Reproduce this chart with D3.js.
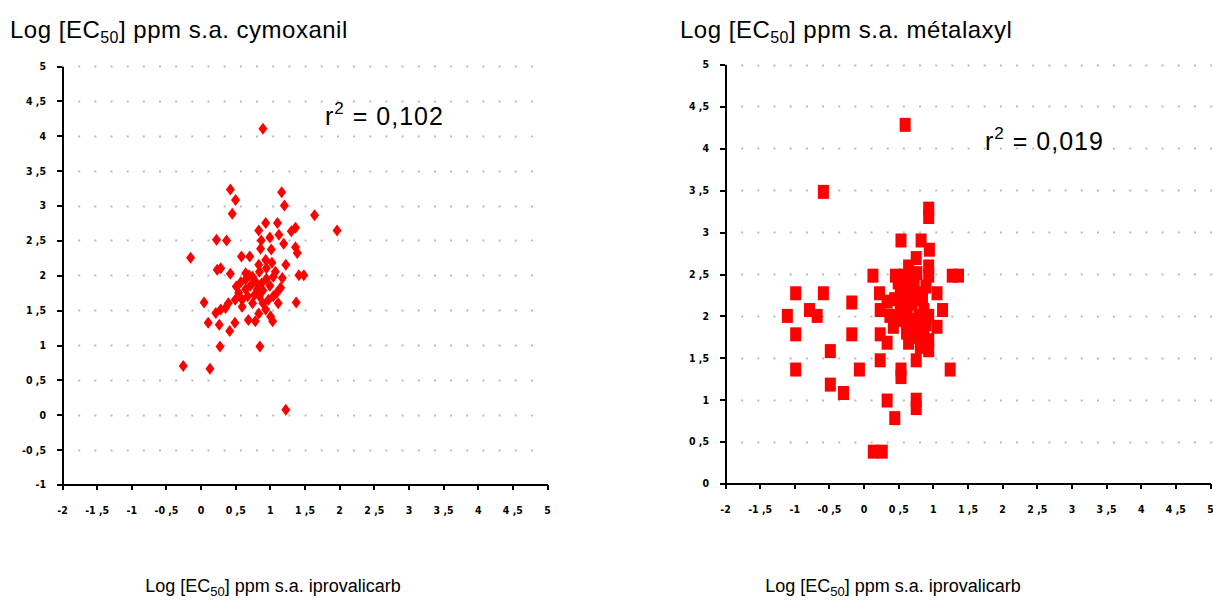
<!DOCTYPE html>
<html lang="fr">
<head>
<meta charset="UTF-8">
<title>EC50 scatter</title>
<style>
  body { margin: 0; background: #fff; }
  svg { display: block; font-family: "Liberation Sans", Arial, sans-serif; }
  .axis path, .axis line { stroke: #000; stroke-width: 2; shape-rendering: crispEdges; }
  .axis text { font-family: "Liberation Sans Narrow", "DejaVu Sans Condensed", sans-serif; font-weight: bold; font-size: 10.5px; fill: #000; }
  .grid line { stroke: #bbb; stroke-width: 2; stroke-dasharray: 2 14.17; }
</style>
</head>
<body>
<svg id="chart" width="1213" height="601"></svg>
<script src="https://d3js.org/d3.v7.min.js"></script>
<script>
// iprovalicarb (x) vs cymoxanil (y)
const cymoxanilPoints = [
  [0.9, 4.1], [0.43, 3.23], [0.505, 3.08], [1.17, 3.19], [1.21, 3.0], [0.457, 2.88],
  [1.645, 2.86], [1.97, 2.64], [0.94, 2.75], [1.11, 2.75], [0.84, 2.64], [1.13, 2.58],
  [1.31, 2.63], [1.37, 2.68], [0.23, 2.51], [0.375, 2.5], [1.0, 2.54], [0.876, 2.5],
  [1.2, 2.45], [0.866, 2.38], [1.02, 2.37], [1.37, 2.4], [1.395, 2.32], [-0.144, 2.25],
  [0.59, 2.27], [0.71, 2.27], [0.94, 2.22], [1.03, 2.18], [0.84, 2.15], [1.23, 2.15],
  [0.29, 2.1], [0.24, 2.08], [0.43, 2.02], [1.42, 2.0], [1.49, 2.0], [0.65, 2.03],
  [0.75, 1.98], [0.65, 1.94], [1.05, 1.98], [1.18, 1.96], [0.515, 1.84], [1.155, 1.82],
  [0.05, 1.61], [1.38, 1.61], [0.22, 1.46], [0.29, 1.51], [0.36, 1.53], [0.11, 1.32],
  [0.27, 1.29], [0.42, 1.2], [0.495, 1.32], [0.69, 1.36], [0.79, 1.34], [1.04, 1.34],
  [0.6, 1.55], [0.84, 1.45], [0.94, 1.51], [1.01, 1.41], [0.28, 0.98], [0.856, 0.98],
  [-0.25, 0.7], [0.135, 0.66], [1.23, 0.07],
  [0.55, 1.75], [0.65, 1.8], [0.72, 1.85], [0.8, 1.9], [0.85, 1.7], [0.9, 1.78],
  [0.95, 1.95], [1.0, 1.85], [1.05, 1.7], [0.6, 1.65], [0.75, 1.6], [0.9, 1.6],
  [1.1, 1.75], [0.7, 2.0], [0.85, 2.05], [0.95, 2.1], [0.5, 1.65], [0.4, 1.6],
  [1.12, 1.6], [0.78, 1.72], [0.68, 1.7], [0.88, 1.88], [1.08, 2.05], [0.58, 1.9],
  [0.98, 1.65], [0.82, 1.8]
];

// iprovalicarb (x) vs metalaxyl (y)
const metalaxylPoints = [
  [0.6, 4.28], [-0.58, 3.48], [0.94, 3.28], [0.94, 3.18], [0.54, 2.9], [0.83, 2.9],
  [0.95, 2.79], [0.76, 2.69], [0.65, 2.59], [0.94, 2.59], [0.135, 2.48], [0.46, 2.48],
  [0.58, 2.48], [0.77, 2.51], [0.94, 2.48], [1.28, 2.48], [1.37, 2.48], [-0.98, 2.27],
  [-0.58, 2.27], [-0.17, 2.16], [0.23, 2.27], [0.34, 2.17], [0.53, 2.27], [0.65, 2.31],
  [0.73, 2.39], [0.82, 2.27], [1.06, 2.27], [1.14, 2.07], [-1.1, 2.0], [-0.78, 2.07],
  [-0.67, 2.0], [0.24, 2.07], [0.38, 2.0], [0.53, 2.07], [0.63, 2.03], [0.87, 2.07],
  [0.94, 2.0], [0.43, 1.87], [0.65, 1.87], [1.06, 1.87], [-0.98, 1.78], [-0.17, 1.78],
  [0.24, 1.78], [0.34, 1.68], [0.65, 1.68], [0.77, 1.75], [0.87, 1.79], [0.94, 1.71],
  [0.94, 1.59], [0.82, 1.63], [-0.48, 1.58], [0.24, 1.47], [0.76, 1.47], [-0.98, 1.36],
  [-0.06, 1.36], [0.54, 1.36], [0.54, 1.27], [1.25, 1.36], [-0.48, 1.18], [-0.29, 1.08],
  [0.34, 0.99], [0.76, 1.0], [0.76, 0.9], [0.45, 0.78], [0.14, 0.38], [0.27, 0.38],
  [0.5, 2.4], [0.6, 2.2], [0.7, 2.15], [0.55, 2.1], [0.65, 1.95], [0.75, 1.9],
  [0.85, 2.2], [0.9, 2.35], [0.45, 2.2], [0.6, 2.35], [0.7, 2.45], [0.5, 1.95],
  [0.8, 2.0], [0.9, 1.9], [0.62, 1.8], [0.72, 2.3]
];

const xTicks = [-2, -1.5, -1, -0.5, 0, 0.5, 1, 1.5, 2, 2.5, 3, 3.5, 4, 4.5, 5];
const xTickLabels = ["-2", "-1 ,5", "-1", "-0 ,5", "0", "0 ,5", "1", "1 ,5", "2", "2 ,5", "3", "3 ,5", "4", "4 ,5", "5"];
const yTicksLeft = [-1, -0.5, 0, 0.5, 1, 1.5, 2, 2.5, 3, 3.5, 4, 4.5, 5];
const yTickLabelsLeft = ["-1", "-0 ,5", "0", "0 ,5", "1", "1 ,5", "2", "2 ,5", "3", "3 ,5", "4", "4 ,5", "5"];
const yTicksRight = [0, 0.5, 1, 1.5, 2, 2.5, 3, 3.5, 4, 4.5, 5];
const yTickLabelsRight = ["0", "0 ,5", "1", "1 ,5", "2", "2 ,5", "3", "3 ,5", "4", "4 ,5", "5"];

const svg = d3.select("#chart");

function panel(opts) {
  let x = d3.scaleLinear().domain([-2, 5]).range(opts.xRange);
  let y = d3.scaleLinear().domain(opts.yDomain).range(opts.yRange);
  let g = svg.append("g");

  // dotted horizontal grid
  g.append("g").attr("class", "grid")
    .selectAll("line")
    .data(opts.yTicks.slice(1))
    .enter().append("line")
    .attr("x1", opts.xRange[0]).attr("x2", opts.gridEnd)
    .attr("y1", d => Math.round(y(d)) + 0.5).attr("y2", d => Math.round(y(d)) + 0.5);

  // points
  if (opts.marker === "diamond") {
    g.selectAll(".pt").data(opts.points).enter().append("path")
      .attr("class", "pt")
      .attr("d", "M0,-6L4.5,0L0,6L-4.5,0Z")
      .attr("fill", "#ff0000")
      .attr("transform", d => `translate(${x(d[0])},${y(d[1])})`);
  } else {
    g.selectAll(".pt").data(opts.points).enter().append("rect")
      .attr("class", "pt")
      .attr("x", d => x(d[0]) - 5.5).attr("y", d => y(d[1]) - 7)
      .attr("width", 11).attr("height", 14)
      .attr("fill", "#ff0000");
  }

  g.append("g").attr("class", "axis")
    .attr("transform", `translate(0,${opts.yRange[0]})`)
    .call(d3.axisBottom(x).tickValues(xTicks).tickSize(5).tickSizeOuter(0).tickPadding(17)
      .tickFormat((d, i) => xTickLabels[i]));

  g.append("g").attr("class", "axis")
    .attr("transform", `translate(${opts.xRange[0]},0)`)
    .call(d3.axisLeft(y).tickValues(opts.yTicks).tickSize(5).tickSizeOuter(0).tickPadding(11)
      .tickFormat((d, i) => opts.yLabels[i]));

  // titles
  let t = g.append("text").attr("x", opts.titleX).attr("y", 38)
    .attr("font-size", 24).attr("letter-spacing", 0.5).attr("fill", "#000");
  t.append("tspan").text("Log [EC");
  t.append("tspan").attr("font-size", 16).attr("dy", 5).text("50");
  t.append("tspan").attr("dy", -5).text("] ppm s.a. " + opts.title);

  let b = g.append("text").attr("x", opts.bottomX).attr("y", 592)
    .attr("font-size", 18).attr("fill", "#000").attr("text-anchor", "middle");
  b.append("tspan").text("Log [EC");
  b.append("tspan").attr("font-size", 13).attr("dy", 4).text("50");
  b.append("tspan").attr("dy", -4).text("] ppm s.a. iprovalicarb");

  let r = g.append("text").attr("x", opts.rX).attr("y", opts.rY)
    .attr("font-size", 25).attr("letter-spacing", 1).attr("fill", "#000");
  r.append("tspan").text("r");
  r.append("tspan").attr("font-size", 17).attr("dy", -11).text("2");
  r.append("tspan").attr("dy", 11).text(" = " + opts.r2);
}

panel({
  xRange: [62, 547], yDomain: [-1, 5], yRange: [484.5, 66], gridEnd: 547,
  yTicks: yTicksLeft, yLabels: yTickLabelsLeft, points: cymoxanilPoints, marker: "diamond",
  title: "cymoxanil", titleX: 10, bottomX: 273, rX: 325, rY: 125, r2: "0,102"
});

panel({
  xRange: [725, 1210], yDomain: [0, 5], yRange: [483.5, 64.5], gridEnd: 1213,
  yTicks: yTicksRight, yLabels: yTickLabelsRight, points: metalaxylPoints, marker: "square",
  title: "métalaxyl", titleX: 680, bottomX: 893, rX: 985, rY: 150, r2: "0,019"
});
</script>
</body>
</html>
